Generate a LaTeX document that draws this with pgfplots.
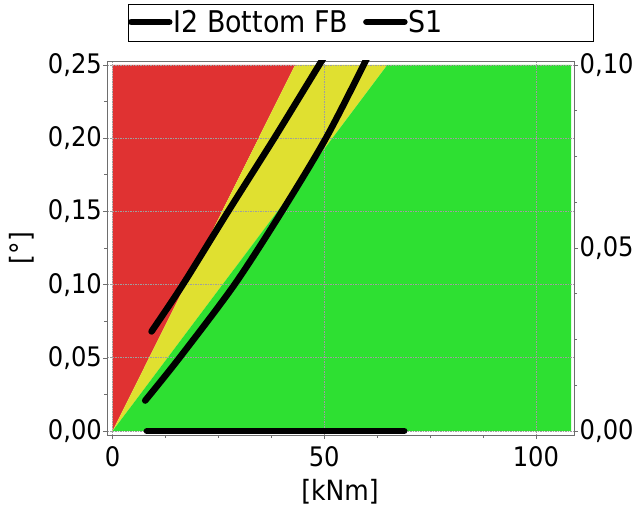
\documentclass[border=0pt]{standalone}
\usepackage{pgfplots}
\pgfplotsset{compat=1.18}
\usepackage{fontspec}
\setmainfont{DejaVu Sans Condensed}

\definecolor{zonered}{RGB}{224,50,50}
\definecolor{zoneyellow}{RGB}{224,224,48}
\definecolor{zonegreen}{RGB}{46,224,50}
\definecolor{framegray}{RGB}{110,110,110}

\newcommand{\tickfont}{\fontsize{27}{31}\selectfont}
\newcommand{\labelfont}{\fontsize{28}{33}\selectfont}

\pgfplotsset{
  common/.style={
    at={(0bp,0bp)}, anchor=south west,
    scale only axis, width=466.5bp, height=374bp,
    xmin=-1.2, xmax=109,
    tick align=outside,
    major tick length=4bp, minor tick length=3bp,
    tick style={framegray, line width=0.6bp},
    axis line style={framegray, line width=0.8bp},
    /pgf/number format/assume math mode=true,
    ticklabel style={font=\tickfont, inner sep=1.5bp},
  },
}

\begin{document}
\begin{tikzpicture}

% angle axis (left) with the zones and the curves
\begin{axis}[
  common,
  set layers,
  ymin=-0.0027, ymax=0.2527,
  xtick={0,50,100}, ytick={0,0.05,0.10,0.15,0.20,0.25},
  minor x tick num=3, minor y tick num=1,
  xtick pos=left, ytick pos=left,
  grid=major,
  major grid style={gray!75, line width=0.7bp, dash pattern=on 1.5bp off 1bp},
  yticklabel style={/pgf/number format/.cd, fixed, fixed zerofill, precision=2, use comma},
  xticklabel style={yshift=-6bp},
  xlabel={[kNm]}, ylabel={[°]},
  label style={font=\labelfont},
  xlabel style={at={(axis description cs:0.4984,-0.1524)}, anchor=center},
  ylabel style={at={(axis description cs:-0.1833,0.5)}, anchor=center},
  legend columns=2,
  legend style={at={(axis description cs:0.0440,1.1043)}, anchor=west,
    draw=none, fill=none, inner sep=0pt, outer sep=0pt,
    nodes={inner sep=1bp, font=\fontsize{30}{35}\selectfont},
    /tikz/every even column/.append style={column sep=14bp}},
  legend image code/.code={\draw[line width=6.5bp, line cap=round] (0bp,0bp) -- (38bp,0bp);},
]
  % zones
  \addplot[draw=none, fill=zonered, on layer=axis background, forget plot]
    coordinates {(0,0) (0,0.25) (43.1,0.25)} -- cycle;
  \addplot[draw=none, fill=zoneyellow, on layer=axis background, forget plot]
    coordinates {(0,0) (43.1,0.25) (64.9,0.25)} -- cycle;
  \addplot[draw=none, fill=zonegreen, on layer=axis background, forget plot]
    coordinates {(0,0) (64.9,0.25) (108.3,0.25) (108.3,0)} -- cycle;

  % curves
  \addplot[black, line width=6.5bp, line cap=round, line join=round, smooth]
    coordinates {(9.2,0.0680) (16.6,0.100) (27.3,0.150) (38.2,0.200) (48.8,0.250) (50.6,0.2580)};
  \addlegendentry{I2 Bottom FB}
  \addplot[black, line width=6.5bp, line cap=round, line join=round, smooth]
    coordinates {(7.7,0.0208) (15.8,0.050) (28.8,0.100) (40.0,0.150) (50.4,0.200) (59.3,0.250) (60.6,0.2580)};
  \addlegendentry{S1}
  \addplot[black, line width=6.5bp, line cap=round, forget plot]
    coordinates {(8.1,0) (68.9,0)};
\end{axis}

% secondary scale (right)
\begin{axis}[
  common,
  ymin=-0.00108, ymax=0.10108,
  axis x line=none, axis y line*=right,
  ytick={0,0.05,0.10}, minor y tick num=3,
  yticklabel style={/pgf/number format/.cd, fixed, fixed zerofill, precision=2, use comma},
]
  \addplot[draw=none, forget plot] coordinates {(0,0)};
\end{axis}

% legend frame
\draw[black, line width=0.8bp] (20.5bp,394bp) rectangle (485.5bp,431bp);

\pgfresetboundingbox
\path[use as bounding box] (-107.5bp,-75bp) rectangle (529.5bp,435bp);
\end{tikzpicture}
\end{document}
